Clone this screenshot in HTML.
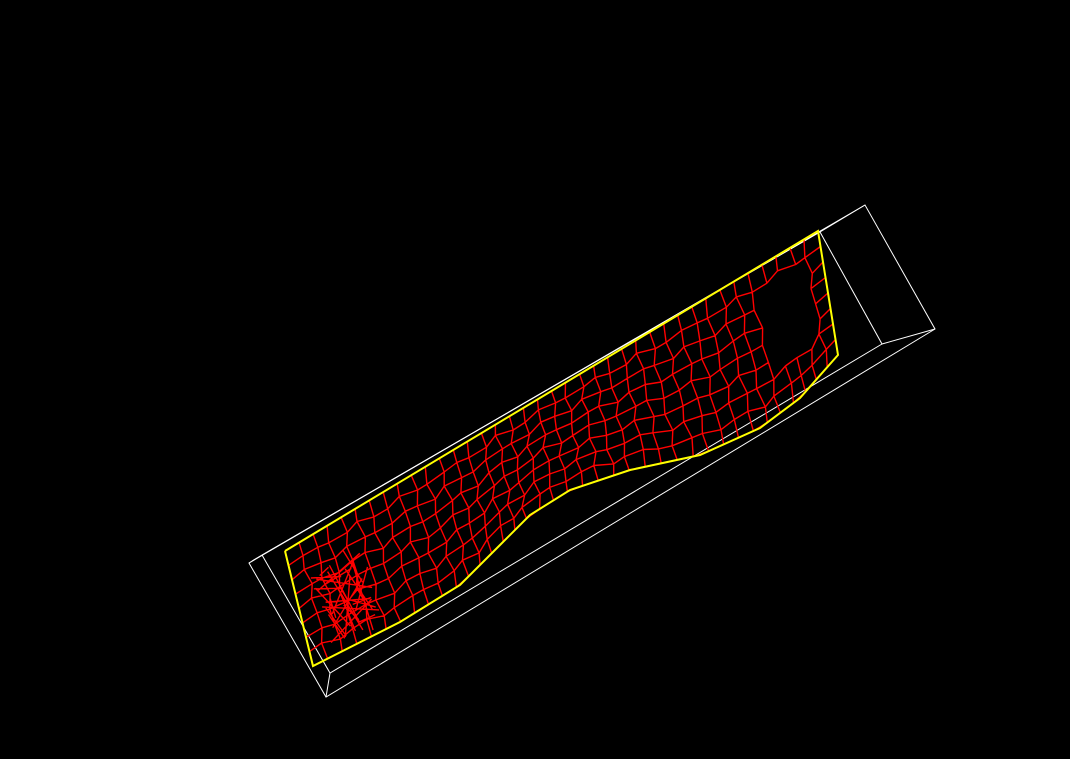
<!DOCTYPE html>
<html><head><meta charset="utf-8"><style>html,body{margin:0;padding:0;background:#000;}svg{display:block}</style></head>
<body>
<svg id="scene" width="1070" height="759" viewBox="0 0 1070 759" xmlns="http://www.w3.org/2000/svg">
<rect width="1070" height="759" fill="#000"/>
<g id="box" stroke="#fff" stroke-width="1" fill="none">
<polygon points="249,563 865,205 935,329 326,697"/>
<polyline points="262,555 820,232 882,344 330,673 262,555"/>
<line x1="249" y1="563" x2="262" y2="555"/><line x1="865" y1="205" x2="820" y2="232"/>
<line x1="935" y1="329" x2="882" y2="344"/><line x1="326" y1="697" x2="330" y2="673"/>
<line x1="252" y1="561" x2="818" y2="233"/>
</g>
<g id="mesh" stroke="#f00" stroke-width="1.4" fill="none"></g>
<polyline id="yb" fill="none" stroke="#ff0" stroke-width="2"/>
</svg>
<script>
const topPts=[[285,551],[818,231]];
const botPts=[[313,666],[400,622],[460,585],[500,545],[530,515],[570,490],[630,470],[700,455],[760,428],[800,398],[838,355]];
function lerp(a,b,t){return [a[0]+(b[0]-a[0])*t,a[1]+(b[1]-a[1])*t];}
function lens(p){const L=[0];for(let i=1;i<p.length;i++)L.push(L[i-1]+Math.hypot(p[i][0]-p[i-1][0],p[i][1]-p[i-1][1]));return L;}
const LT=lens(topPts),LB=lens(botPts);
function onPoly(p,L,t){const s=t*L[L.length-1];let i=0;while(i<p.length-2&&L[i+1]<s)i++;return lerp(p[i],p[i+1],(s-L[i])/(L[i+1]-L[i]));}
function P(u,v){const a=onPoly(topPts,LT,u),b=onPoly(botPts,LB,u);let q=lerp(a,b,v);
 if(u>0&&u<1&&v>0&&v<1){q[0]+=2.5*Math.sin(u*97+v*31);q[1]+=2.5*Math.cos(u*71+v*53);}return q;}
const NU=38,NV=8,g=document.getElementById('mesh');
function holeCell(i,j){if(i<0||j<0||i>=NU||j>=NV)return true;const u=(i+.5)/NU,v=(j+.5)/NV;return u>0.865&&u<0.975&&v>0.12&&v<0.8;}
let d='';
for(let i=0;i<=NU;i++)for(let j=0;j<=NV;j++){
 if(i<NU&&!(holeCell(i,j-1)&&holeCell(i,j))){const a=P(i/NU,j/NV),b=P((i+1)/NU,j/NV);d+=`M${a[0].toFixed(1)},${a[1].toFixed(1)}L${b[0].toFixed(1)},${b[1].toFixed(1)}`;}
 if(j<NV&&!(holeCell(i-1,j)&&holeCell(i,j))){const a=P(i/NU,j/NV),b=P(i/NU,(j+1)/NV);d+=`M${a[0].toFixed(1)},${a[1].toFixed(1)}L${b[0].toFixed(1)},${b[1].toFixed(1)}`;}
}
for(let k=0;k<30;k++){const u1=0.03+0.1*((k*37)%40)/40,v1=0.25+0.7*((k*13)%40)/40,u2=0.03+0.1*((k*23)%40)/40,v2=0.25+0.7*((k*29)%40)/40;
 const a=P(u1,v1),b=P(u2,v2);d+=`M${a[0].toFixed(1)},${a[1].toFixed(1)}L${b[0].toFixed(1)},${b[1].toFixed(1)}`;}
const path=document.createElementNS('http://www.w3.org/2000/svg','path');
path.setAttribute('d',d);


g.appendChild(path);
const yb=[...topPts,...botPts.slice().reverse(),topPts[0]];
document.getElementById('yb').setAttribute('points',yb.map(p=>p.join(',')).join(' '));
</script>
</body></html>
